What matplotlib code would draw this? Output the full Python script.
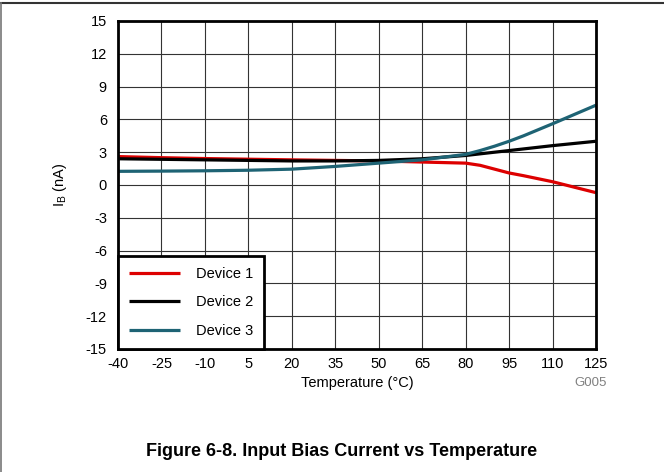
import matplotlib
matplotlib.use("Agg")
import matplotlib.pyplot as plt
from matplotlib.lines import Line2D

plt.rcParams['font.family'] = ['Liberation Sans', 'DejaVu Sans']
plt.rcParams['axes.unicode_minus'] = False

temps = [-40, -25, -10, 5, 20, 35, 50, 65, 80, 85, 90, 95, 100, 110, 125]
device1 = [2.6, 2.5, 2.42, 2.36, 2.3, 2.25, 2.2, 2.1, 2.0, 1.8, 1.45, 1.1, 0.85, 0.3, -0.7]
device2 = [2.4, 2.35, 2.3, 2.25, 2.2, 2.2, 2.25, 2.4, 2.7, 2.85, 3.0, 3.15, 3.3, 3.6, 4.0]
device3 = [1.25, 1.27, 1.3, 1.35, 1.45, 1.7, 2.0, 2.3, 2.8, 3.15, 3.55, 4.0, 4.5, 5.6, 7.3]

xticks = [-40, -25, -10, 5, 20, 35, 50, 65, 80, 95, 110, 125]
yticks = [-15, -12, -9, -6, -3, 0, 3, 6, 9, 12, 15]

fig = plt.figure(figsize=(6.64, 4.72), dpi=100)
ax = fig.add_axes([118/664, 1-349/472, (596-118)/664, (349-21)/472])

ax.plot(temps, device1, color='#dd0000', lw=2.3, label='Device 1', solid_capstyle='butt')
ax.plot(temps, device2, color='#000000', lw=2.3, label='Device 2', solid_capstyle='butt')
ax.plot(temps, device3, color='#1e6374', lw=2.3, label='Device 3', solid_capstyle='butt')

ax.set_xlim(-40, 125)
ax.set_ylim(-15, 15)
ax.set_xticks(xticks)
ax.set_yticks(yticks)
ax.tick_params(axis='x', length=0, labelsize=10.5, pad=6)
ax.tick_params(axis='y', length=0, labelsize=10.5, pad=8)
ax.grid(True, color='#333333', lw=0.8)
ax.set_axisbelow(True)
for s in ax.spines.values():
    s.set_linewidth(2)
    s.set_color('black')

ax.set_xlabel('Temperature (°C)', fontsize=10.5, labelpad=3)
ax.set_ylabel('I$_{\\mathregular{B}}$ (nA)', fontsize=10.5, labelpad=12)

leg = ax.legend(loc='lower left', borderaxespad=0, fontsize=10.5, fancybox=False,
                edgecolor='black', framealpha=1, handlelength=3.5, handletextpad=1.1,
                labelspacing=1.0, borderpad=0.75)
leg.get_frame().set_linewidth(2)

fig.text(607/664, 1-383/472, 'G005', fontsize=9.5, color='#808080', ha='right', va='center')
fig.text(342/664, 1-452/472, 'Figure 6-8. Input Bias Current vs Temperature',
         fontsize=13, fontweight='bold', ha='center', va='center')

fig.add_artist(Line2D([0, 1], [1-2.5/472, 1-2.5/472], color='#333333', lw=1.5, transform=fig.transFigure))
fig.add_artist(Line2D([0.8/664, 0.8/664], [0, 1-2.5/472], color='#777777', lw=1.2, transform=fig.transFigure))

fig.savefig('out.png', dpi=100)
